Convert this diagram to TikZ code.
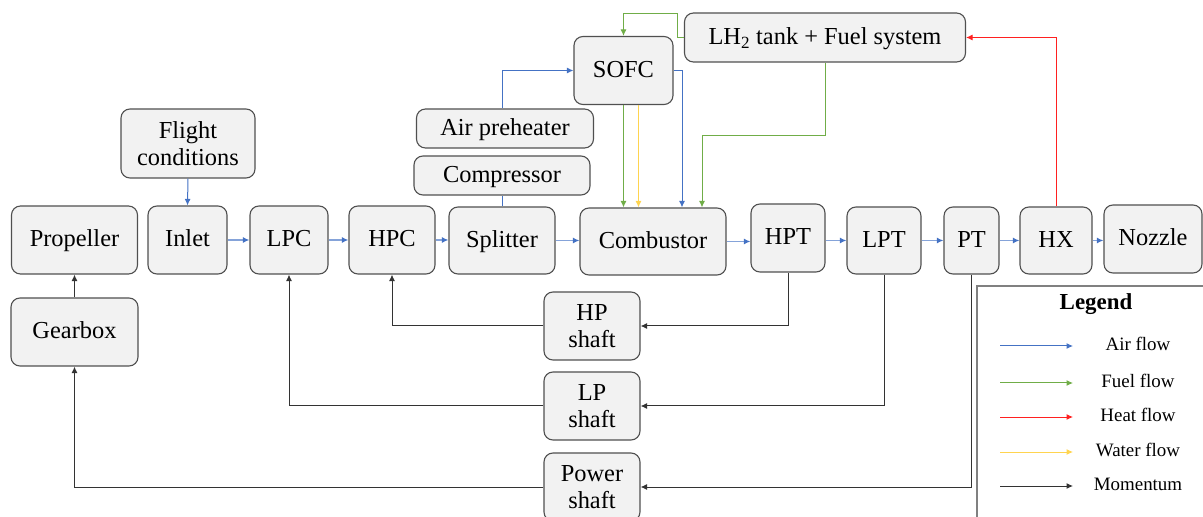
\documentclass[tikz,border=0pt]{standalone}
\usepackage{fontspec}
\setmainfont{Liberation Serif}
\usetikzlibrary{arrows.meta}
\definecolor{airc}{HTML}{4472C4}
\definecolor{fuelc}{HTML}{70AD47}
\definecolor{heatc}{HTML}{FF2020}
\definecolor{waterc}{HTML}{FFD44F}
\definecolor{momc}{HTML}{333333}
\definecolor{boxline}{HTML}{505050}
\definecolor{boxfill}{HTML}{F2F2F2}
\definecolor{legline}{HTML}{808080}
\begin{document}
\begin{tikzpicture}[x=1bp,y=-1bp,
  block/.style={draw=boxline,fill=boxfill,line width=1.1bp,rounded corners=9bp,
    align=center,inner sep=0pt,font=\fontsize{24.5}{27}\selectfont},
  one/.style={text height=17bp,text depth=3bp},
  tip/.style={-{Latex[length=6.5bp,width=6bp]}},
  air/.style={tip,draw=airc,line width=1bp},
  core/.style={-{Latex[length=6.5bp,width=6bp,color=airc]},draw=airc!65,line width=1.6bp},
  fuel/.style={tip,draw=fuelc,line width=1bp},
  heat/.style={tip,draw=heatc,line width=1bp},
  water/.style={tip,draw=waterc,line width=1bp},
  mom/.style={tip,draw=momc,line width=1bp},
  link/.style={draw=airc,line width=1bp},
  legtext/.style={font=\fontsize{19}{22}\selectfont,anchor=center,text height=13bp,text depth=2bp}]
\useasboundingbox (0,0) rectangle (1203,517);
\clip (0,0) rectangle (1203,517);

% main engine row
\node[block,one,minimum width=126bp,minimum height=68bp] (prop)    at (74.5,240) {Propeller};
\node[block,one,minimum width=79bp, minimum height=68bp] (inlet)   at (187.5,240) {Inlet};
\node[block,one,minimum width=78bp, minimum height=68bp] (lpc)     at (289,240) {LPC};
\node[block,one,minimum width=86bp, minimum height=68bp] (hpc)     at (392,240) {HPC};
\node[block,one,minimum width=106bp,minimum height=67bp] (split)   at (502,240.5) {Splitter};
\node[block,one,minimum width=146bp,minimum height=67bp] (comb)    at (653,241.5) {Combustor};
\node[block,one,minimum width=74bp, minimum height=68bp] (hpt)     at (788,238) {HPT};
\node[block,one,minimum width=74bp, minimum height=67bp] (lpt)     at (884,240.5) {LPT};
\node[block,one,minimum width=55bp, minimum height=67bp] (pt)      at (971.5,240.5) {PT};
\node[block,one,minimum width=72bp, minimum height=67bp] (hx)      at (1056,240.5) {HX};
\node[block,one,minimum width=98bp, minimum height=68bp] (nozzle)  at (1153,239) {Nozzle};

% upper components
\node[block,minimum width=134bp,minimum height=69bp] (flight)  at (188,143.5) {Flight\\conditions};
\node[block,one,minimum width=99bp, minimum height=68bp] (sofc)    at (623.5,70.5) {SOFC};
\node[block,one,minimum width=281bp,minimum height=49bp] (tank)    at (825,37.5) {LH\textsubscript{2} tank + Fuel system};
\node[block,one,minimum width=177bp,minimum height=39bp] (preheat) at (505,128.5) {Air preheater};
\node[block,one,minimum width=176bp,minimum height=39bp] (compr)   at (502,175.5) {Compressor};

% shafts and gearbox
\node[block,one,minimum width=127bp,minimum height=68bp] (gearbox)  at (74.5,332) {Gearbox};
\node[block,minimum width=96bp, minimum height=68bp] (hpshaft)  at (592,326) {HP\\shaft};
\node[block,minimum width=96bp, minimum height=68bp] (lpshaft)  at (592,406) {LP\\shaft};
\node[block,minimum width=96bp, minimum height=68bp] (powshaft) at (592,487) {Power\\shaft};

% air flow along the core
\draw[air] (flight.south) -- (inlet.north);
\draw[core] (inlet.east) -- (inlet.east -| lpc.west);
\draw[core] (lpc.east) -- (lpc.east -| hpc.west);
\draw[core] (hpc.east) -- (hpc.east -| split.west);
\draw[core] (split.east) -- (split.east -| comb.west);
\draw[core] (comb.east) -- (comb.east -| hpt.west);
\draw[core] (hpt.east |- lpt.west) -- (lpt.west);
\draw[core] (lpt.east) -- (lpt.east -| pt.west);
\draw[core] (pt.east) -- (pt.east -| hx.west);
\draw[core] (hx.east) -- (hx.east -| nozzle.west);

% bleed air through compressor and preheater to the SOFC
\draw[link] (split.north) -- (compr.south);
\draw[link] (compr.north) -- (compr.north -| split.north |- preheat.south);
\draw[air] (preheat.north -| split.north) |- (sofc.west);

% SOFC exhaust into the combustor
\draw[fuel]  (sofc.south) -- (sofc.south |- comb.north);
\draw[water] ([xshift=15bp]sofc.south) -- ([xshift=15bp]sofc.south |- comb.north);
\draw[air]   (sofc.east) -| ([xshift=29bp]comb.north);

% hydrogen supply
\draw[fuel] (tank.west) -- ++(-6.5,0) -- ++(0,-24) -| (sofc.north);
\draw[fuel] (tank.south) -- ++(0,73) -| ([xshift=49bp]comb.north);

% heat recovery
\draw[heat] (hx.north) |- (tank.east);

% shaft power
\draw[mom] (hpt.south) |- (hpshaft.east);
\draw[mom] (hpshaft.west) -| (hpc.south);
\draw[mom] (lpt.south) |- (lpshaft.east);
\draw[mom] (lpshaft.west) -| (lpc.south);
\draw[mom] (pt.south) |- (powshaft.east);
\draw[mom] (powshaft.west) -| (gearbox.south);
\draw[mom] (gearbox.north) -- (prop.south);

% legend
\draw[draw=legline,line width=1.5bp] (977,286) rectangle (1215,530);
\node[font=\fontsize{23}{26}\selectfont\bfseries] (legtitle) at (1096,304) {Legend};
\foreach \n/\y/\sty/\txt in {a/346/air/Air flow, f/383/fuel/Fuel flow, h/417/heat/Heat flow,
                            w/452/water/Water flow, m/486/mom/Momentum}{
  \coordinate (leg\n s) at (1000,\y);
  \coordinate (leg\n e) at (1073,\y);
  \draw[\sty] (leg\n s) -- (leg\n e);
  \node[legtext] (leg\n t) at (1138,\y-1) {\txt};
}
\end{tikzpicture}
\end{document}
